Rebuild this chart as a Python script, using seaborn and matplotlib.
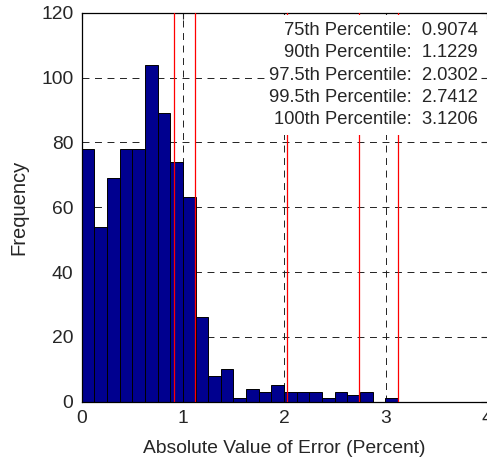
import numpy as np
import pandas as pd
import matplotlib
matplotlib.use("Agg")
import matplotlib.pyplot as plt
import seaborn as sns
from matplotlib.patches import Rectangle

# ---- data ----
counts = [78, 54, 69, 78, 78, 104, 89, 74, 63, 26, 8, 10, 1, 4, 3, 5, 3, 3, 3, 1, 3, 2, 3, 0, 1]
max_error = 3.1206
percentile_names = ["75th", "90th", "97.5th", "99.5th", "100th"]
percentile_values = [0.9074, 1.1229, 2.0302, 2.7412, 3.1206]
x_ticks = [0, 1, 2, 3, 4]
y_ticks = [0, 20, 40, 60, 80, 100, 120]

n_bins = len(counts)
edges = np.linspace(0, max_error, n_bins + 1)
centers = (edges[:-1] + edges[1:]) / 2
df = pd.DataFrame({"err": centers, "count": counts})

sns.set_style("white")
plt.rcParams["font.family"] = ["Liberation Sans", "DejaVu Sans"]
plt.rcParams["lines.scale_dashes"] = False

fig = plt.figure(figsize=(4.87, 4.58), dpi=100)
ax = fig.add_axes([81.7 / 487, 1 - 401.7 / 458, 405.3 / 487, 389 / 458])

sns.histplot(data=df, x="err", weights="count", bins=n_bins, binrange=(0, max_error),
             color="#00008F", edgecolor="black", linewidth=0.7, alpha=1, ax=ax, zorder=2)

ax.set_xlim(0, 4)
ax.set_ylim(0, 120)
ax.set_xticks(x_ticks)
ax.set_yticks(y_ticks)
ax.set_axisbelow(True)
ax.grid(True, color="#222222", linestyle=(0, (5, 4)), linewidth=0.7)

for v in percentile_values:
    ax.axvline(v, color="red", linewidth=0.9, zorder=3)

# white box behind the annotation
ax.add_patch(Rectangle((0.460, 0.686), 0.518, 0.309, transform=ax.transAxes,
                       facecolor="white", edgecolor="none", zorder=4, clip_on=False))
line_px = [30.7, 52.5, 75.5, 97.7, 120]
for name, val, ypx in zip(percentile_names, percentile_values, line_px):
    ax.text(0.977, (401.7 - ypx) / 389, f"{name} Percentile:  {val:.4f}",
            transform=ax.transAxes, ha="right", va="center", fontsize=13.2, zorder=5)

ax.set_xlabel("Absolute Value of Error (Percent)", fontsize=13.9, labelpad=9)
ax.set_ylabel("Frequency", fontsize=14.5, labelpad=9)
ax.tick_params(axis="both", direction="in", length=4, width=0.8, labelsize=13.9,
               top=True, right=True, pad=6)
for s in ["left", "bottom", "top"]:
    ax.spines[s].set_color("black")
    ax.spines[s].set_linewidth(0.9)
ax.spines["right"].set_visible(False)

fig.savefig("out.png", dpi=100)
